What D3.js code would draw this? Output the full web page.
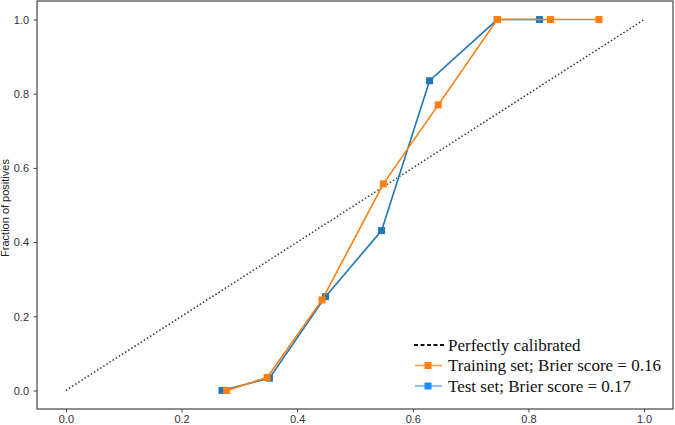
<!DOCTYPE html>
<html>
<head>
<meta charset="utf-8">
<script src="https://cdn.jsdelivr.net/npm/d3@7"></script>
<style>
  html, body { margin: 0; padding: 0; background: #fff; }
  svg { display: block; }
</style>
</head>
<body>
<div id="chart"></div>
<script>
// Calibration curve data (mean predicted value vs fraction of positives)
const trainX = [0.278, 0.348, 0.443, 0.549, 0.644, 0.746, 0.838, 0.922];
const trainY = [0.0, 0.035, 0.244, 0.557, 0.770, 1.0, 1.0, 1.0];
const testX = [0.270, 0.352, 0.449, 0.546, 0.629, 0.746, 0.819];
const testY = [0.0, 0.033, 0.253, 0.431, 0.835, 1.0, 1.0];
const diagX = [0, 1];
const tickValues = [0, 0.2, 0.4, 0.6, 0.8, 1.0];
const legendLabels = [
  "Perfectly calibrated",
  "Training set; Brier score = 0.16",
  "Test set; Brier score = 0.17",
];

const W = 675, H = 425;
const frame = { left: 37, right: 673, top: 1, bottom: 409 };

const x = d3.scaleLinear().domain([-0.05, 1.05]).range([frame.left, frame.right]);
const y = d3.scaleLinear().domain([-0.05, 1.05]).range([frame.bottom, frame.top]);

const svg = d3.select("#chart").append("svg")
  .attr("width", W).attr("height", H);

const line = d3.line().x((d) => x(d[0])).y((d) => y(d[1]));

// Perfectly calibrated diagonal
svg.append("path")
  .datum(diagX.map((v) => [v, v]))
  .attr("fill", "none")
  .attr("stroke", "#333")
  .attr("stroke-width", 1.5)
  .attr("stroke-dasharray", "1.5,2.2")
  .attr("d", line);

// series: test drawn first, training on top
const series = [
  { xs: testX, ys: testY, color: "#1f77b4" },
  { xs: trainX, ys: trainY, color: "#ff7f0e" },
];

series.forEach((s) => {
  const pts = s.xs.map((v, i) => [v, s.ys[i]]);
  svg.append("path")
    .datum(pts)
    .attr("fill", "none")
    .attr("stroke", s.color)
    .attr("stroke-width", 1.6)
    .attr("d", line);
  svg.selectAll(null)
    .data(pts)
    .join("rect")
    .attr("x", (d) => x(d[0]) - 3.5)
    .attr("y", (d) => y(d[1]) - 3.5)
    .attr("width", 7)
    .attr("height", 7)
    .attr("fill", s.color);
});

// Axes frame
svg.append("rect")
  .attr("x", frame.left).attr("y", frame.top)
  .attr("width", frame.right - frame.left)
  .attr("height", frame.bottom - frame.top)
  .attr("fill", "none")
  .attr("stroke", "#444")
  .attr("stroke-width", 1.2);

const xAxis = svg.append("g")
  .attr("transform", `translate(0,${frame.bottom})`)
  .call(d3.axisBottom(x).tickValues(tickValues).tickFormat(d3.format(".1f")).tickSize(3.5).tickSizeOuter(0));
const yAxis = svg.append("g")
  .attr("transform", `translate(${frame.left},0)`)
  .call(d3.axisLeft(y).tickValues(tickValues).tickFormat(d3.format(".1f")).tickSize(3.5).tickSizeOuter(0));

[xAxis, yAxis].forEach((a) => {
  a.select(".domain").remove();
  a.selectAll(".tick line").attr("stroke", "#444");
  a.selectAll("text")
    .attr("fill", "#333")
    .style("font-family", "'Liberation Sans', Arial, sans-serif")
    .style("font-size", "11px");
});
xAxis.selectAll("text").attr("dy", "0").attr("y", 13.5);
yAxis.selectAll("text").attr("x", -8).attr("dy", "0.35em");

// Y axis label
svg.append("text")
  .attr("transform", `translate(9,${(frame.top + frame.bottom) / 2 + 3}) rotate(-90)`)
  .attr("text-anchor", "middle")
  .attr("fill", "#222")
  .style("font-family", "'Liberation Sans', Arial, sans-serif")
  .style("font-size", "11px")
  .text("Fraction of positives");

// Legend
const legend = svg.append("g").attr("transform", "translate(414,345)");
const legendStyles = [
  { type: "dash", line: "#111" },
  { type: "marker", line: "#ffa04a", fill: "#ff7f0e" },
  { type: "marker", line: "#7fb0f5", fill: "#1a8cff" },
];
legendLabels.forEach((label, i) => {
  const row = legend.append("g").attr("transform", `translate(0,${i * 20.5})`);
  const st = legendStyles[i];
  if (st.type === "dash") {
    row.append("line")
      .attr("x1", 0).attr("x2", 31).attr("y1", 0).attr("y2", 0)
      .attr("stroke", st.line).attr("stroke-width", 2)
      .attr("stroke-dasharray", "4,2.5");
  } else {
    row.append("line")
      .attr("x1", 1).attr("x2", 28).attr("y1", 0).attr("y2", 0)
      .attr("stroke", st.line).attr("stroke-width", 1.6);
    row.append("rect")
      .attr("x", 10.5).attr("y", -3.5).attr("width", 7).attr("height", 7)
      .attr("fill", st.fill);
  }
  row.append("text")
    .attr("x", 34)
    .attr("y", 5.5)
    .attr("fill", "#111")
    .style("font-family", "'Liberation Serif', 'Times New Roman', serif")
    .style("font-size", "17px")
    .text(label);
});
</script>
</body>
</html>
